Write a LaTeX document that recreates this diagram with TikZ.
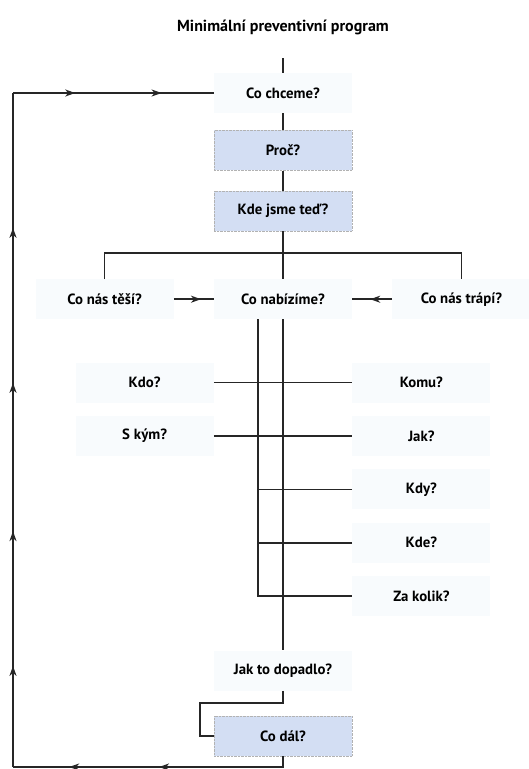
\documentclass[tikz,border=0pt]{standalone}
\usepackage{fontspec}
\setmainfont{PT Sans}
\usepackage{tikz}
\usetikzlibrary{arrows.meta, positioning, decorations.markings}
\definecolor{qblue}{RGB}{211,222,243}
\definecolor{qpale}{RGB}{248,251,253}

\begin{document}
\begin{tikzpicture}[
        x=1pt, y=-1pt,
        node distance = 13pt and 40pt,
        plain/.style = {rectangle, minimum width=138pt, minimum height=40pt, inner sep=0pt, align=center, font=\fontsize{14.8}{16}\selectfont\bfseries, fill=qpale},
        bluebox/.style = {plain, fill=qblue, draw=black!30, densely dotted},
        flowhead/.tip = {Stealth[length=10pt, width=7pt, inset=3pt]},
        flowtip/.style = {postaction={decorate, decoration={markings, mark=at position #1 with {\arrow{flowhead}}}}},
        line/.style = {draw=black!85, line width=1.6pt}
    ]
        \useasboundingbox (0,0) rectangle (529,769);

        \node (chceme) [plain] at (283,93) {Co chceme?};
        \node (title) [font=\fontsize{16}{18}\selectfont\bfseries, minimum height=62pt, inner sep=0pt] at (283,27) {Minimální preventivní program};
        \node (proc) [bluebox, below=17pt of chceme] {Proč?};
        \node (kde) [bluebox, below=20pt of proc] {Kde jsme teď?};
        \node (nabizime) [plain, below=48pt of kde] {Co nabízíme?};
        \node (tesi) [plain, left=of nabizime] {Co nás těší?};
        \node (trapi) [plain, right=of nabizime] {Co nás trápí?};

        \node (kdo) [plain, below left=43pt and 0pt of nabizime] {Kdo?};
        \node (skym) [plain, below=of kdo] {S kým?};
        \node (komu) [plain, below right=43pt and 0pt of nabizime] {Komu?};
        \node (jak) [plain, below=of komu] {Jak?};
        \node (kdy) [plain, below=of jak] {Kdy?};
        \node (kdeq) [plain, below=of kdy] {Kde?};
        \node (zakolik) [plain, below=of kdeq] {Za kolik?};

        \node (dopadlo) [plain, below=331pt of nabizime] {Jak to dopadlo?};
        \node (codal) [bluebox, below=25pt of dopadlo] {Co dál?};

        \coordinate (split) at (283,253);
        \coordinate (branch) at ([xshift=-25pt]nabizime.south);
        \coordinate (loopbot) at (13,767);
        \coordinate (looptop) at (13,93);

        \draw [line] (title.south) -- (chceme.north);
        \draw [line] (chceme.south) -- (proc.north);
        \draw [line] (proc.south) -- (kde.north);
        \draw [line] (kde.south) -- (nabizime.north);
        \draw [line] (tesi.north) |- (split) -| (trapi.north);
        \draw [line, flowtip=0.68] (tesi.east) -- (nabizime.west);
        \draw [line, flowtip=0.55] (trapi.west) -- (nabizime.east);

        \draw [line] (nabizime.south) -- (dopadlo.north);
        \draw [line] (branch) |- (zakolik.west);
        \draw [line] (kdo.east) -- (komu.west);
        \draw [line] (skym.east) -- (jak.west);
        \draw [line] (kdy.west) -- (kdy.west -| branch);
        \draw [line] (kdeq.west) -- (kdeq.west -| branch);

        \draw [line] (dopadlo.south) -- ++(0,12) -- ++(-83,0) |- (codal.west);

        % zpetna smycka
        \draw [line, flowtip=0.48, flowtip=0.8] (codal.south) |- (loopbot);
        \draw [line, flowtip=0.15, flowtip=0.35, flowtip=0.57, flowtip=0.8] (loopbot) -- (looptop);
        \draw [line, flowtip=0.31, flowtip=0.74] (looptop) -- (chceme.west);

    \end{tikzpicture}
\end{document}
